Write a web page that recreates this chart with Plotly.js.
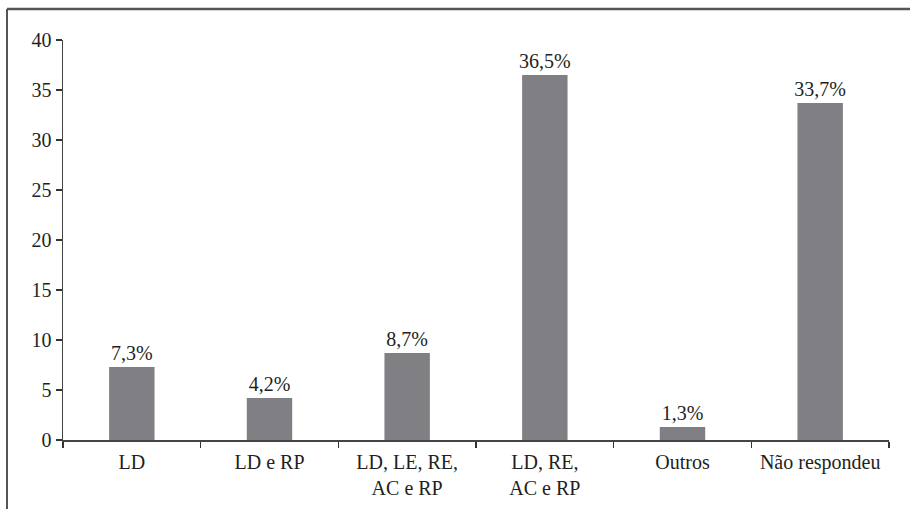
<!DOCTYPE html>
<html><head><meta charset="utf-8">
<script src="https://cdn.plot.ly/plotly-3.0.1.min.js"></script>
<style>html,body{margin:0;padding:0;background:#fff}#c{width:910px;height:509px}</style>
</head><body><div id="c"></div>
<script>
var categories = ["LD", "LD e RP", "LD, LE, RE,<br>AC e RP", "LD, RE,<br>AC e RP", "Outros", "Não respondeu"];
var values = [7.3, 4.2, 8.7, 36.5, 1.3, 33.7];
var valueLabels = ["7,3%", "4,2%", "8,7%", "36,5%", "1,3%", "33,7%"];
var yTicks = [0, 5, 10, 15, 20, 25, 30, 35, 40];

var fontFam = "Liberation Serif, serif";
var W = 910, H = 509, ml = 63, mr = 21, mt = 40, mb = 69;
var pw = W - ml - mr, ph = H - mt - mb;
function px(x){ return (x - ml) / pw; }
function py(y){ return (H - mb - y) / ph; }

Plotly.newPlot('c', [{
  type: 'bar',
  x: categories,
  y: values,
  text: valueLabels,
  textposition: 'outside',
  constraintext: 'none',
  cliponaxis: false,
  textfont: {family: fontFam, size: 20, color: '#231f20'},
  marker: {color: '#808084', line: {width: 0}},
  hoverinfo: 'none'
}], {
  width: W, height: H,
  margin: {l: ml, r: mr, t: mt, b: mb, pad: 0},
  paper_bgcolor: '#fff', plot_bgcolor: '#fff',
  bargap: 0.67,
  showlegend: false,
  font: {family: fontFam, size: 20, color: '#231f20'},
  xaxis: {
    type: 'category',
    tickson: 'boundaries',
    ticks: 'outside', ticklen: 6, tickwidth: 1.2, tickcolor: '#333',
    ticklabelstandoff: 3,
    showline: true, linecolor: '#444', linewidth: 1.5,
    showgrid: false, zeroline: false,
    tickfont: {family: fontFam, size: 20, color: '#231f20'},
    fixedrange: true
  },
  yaxis: {
    range: [0, 40],
    tickvals: yTicks,
    ticktext: yTicks.map(String),
    ticks: 'outside', ticklen: 6, tickwidth: 1.2, tickcolor: '#333',
    showline: true, linecolor: '#444', linewidth: 1.5,
    showgrid: false, zeroline: false,
    tickfont: {family: fontFam, size: 20, color: '#231f20'},
    fixedrange: true
  },
  shapes: [
    {type: 'line', xref: 'paper', yref: 'paper', x0: px(7), x1: px(912), y0: py(9), y1: py(9), line: {color: '#555', width: 2.5}},
    {type: 'line', xref: 'paper', yref: 'paper', x0: px(7), x1: px(7), y0: py(9), y1: py(512), line: {color: '#555', width: 2}}
  ]
}, {staticPlot: true, displayModeBar: false});
</script></body></html>
